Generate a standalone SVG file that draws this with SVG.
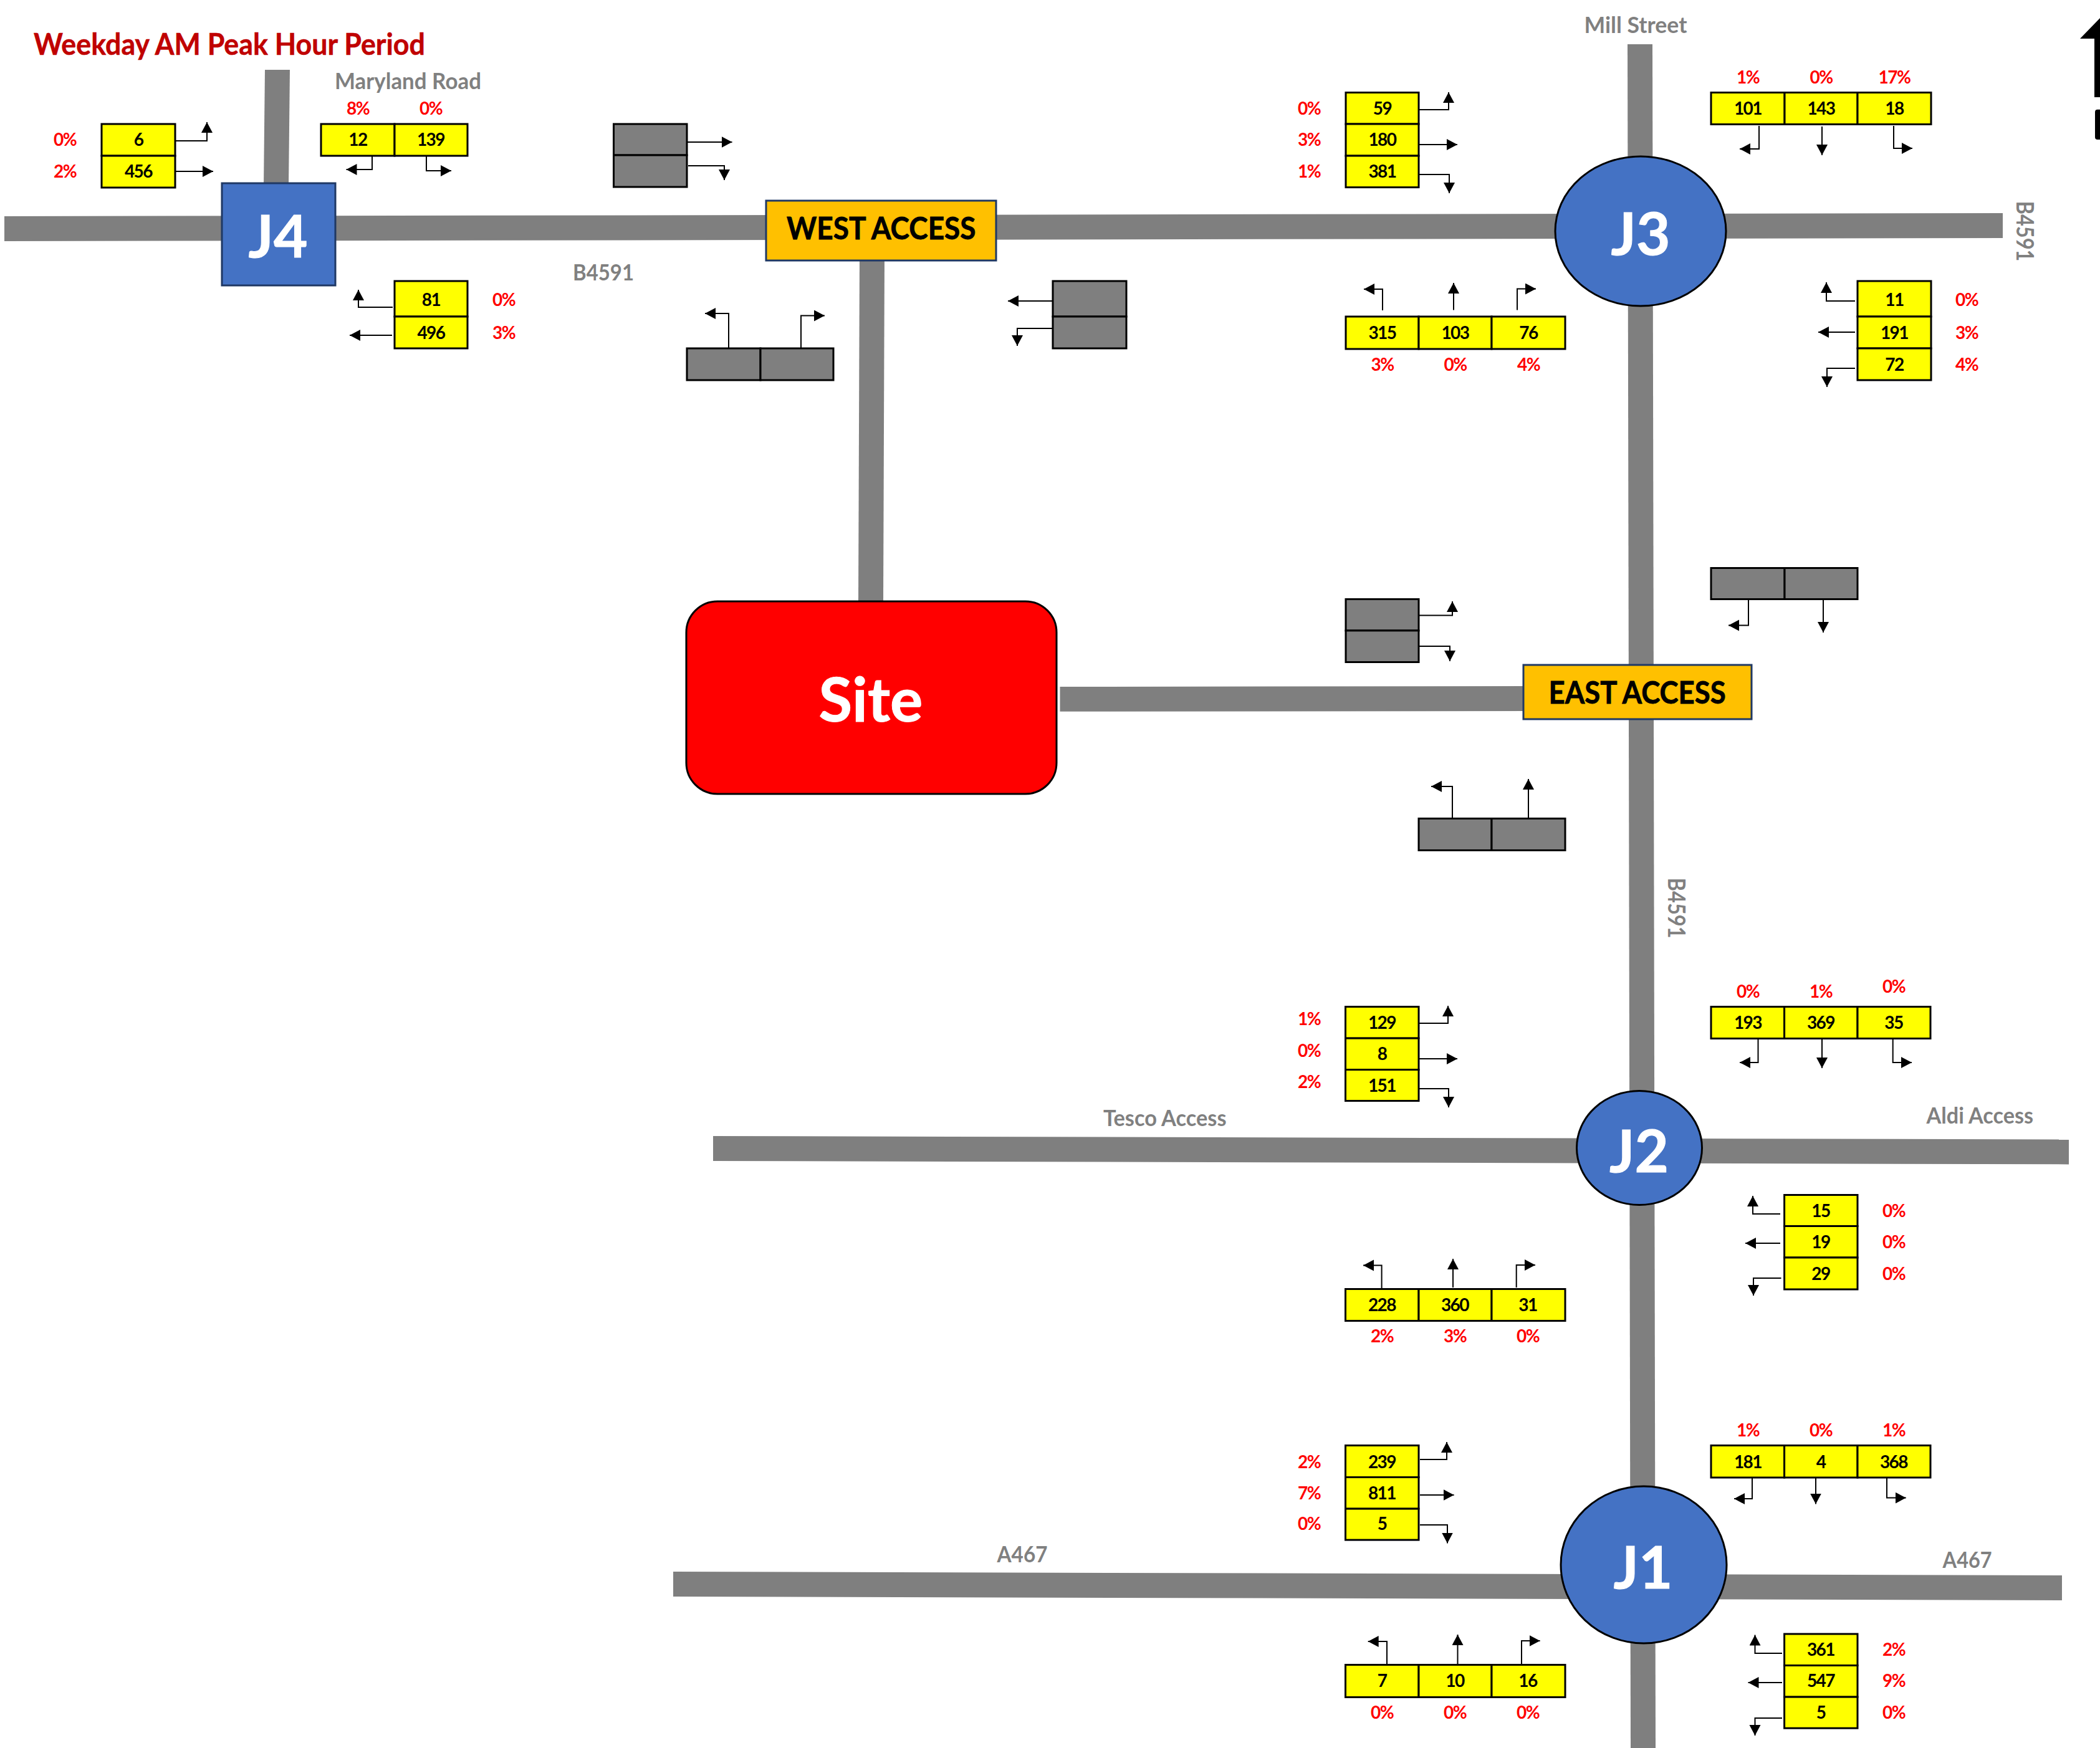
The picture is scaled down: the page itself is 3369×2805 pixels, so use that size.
<svg xmlns="http://www.w3.org/2000/svg" width="3369" height="2805" viewBox="0 0 3369 2805">
<style>
text{font-family:"Lato","Open Sans","Liberation Sans",sans-serif;font-weight:700}
.road{fill:#7f7f7f}
.c{fill:#ffff00;stroke:#000;stroke-width:3}
.g{fill:#7f7f7f;stroke:#000;stroke-width:3}
.v{font-size:28px;letter-spacing:-1.5px;fill:#000;text-anchor:middle}
.p{font-size:28px;letter-spacing:-1.5px;fill:#f00;text-anchor:middle}
.l{font-size:36px;fill:#808080}
.lv{font-size:38px}
.j{font-size:94px;fill:#fff;text-anchor:middle;stroke:#fff;stroke-width:1}
.jn{fill:#4472c4;stroke:#000;stroke-width:3}
.acc{fill:#ffc000;stroke:#1f3864;stroke-width:3}
.a{font-size:49px;fill:#000;stroke:#000;stroke-width:.8}
.cn{fill:none;stroke:#000;stroke-width:2;marker-end:url(#ah)}
.t{font-size:48px;fill:#c00000;stroke:#c00000;stroke-width:.5}
.s{font-size:98px;fill:#fff;text-anchor:middle;stroke:#fff;stroke-width:1}
</style>
<defs>
<marker id="ah" markerUnits="userSpaceOnUse" markerWidth="20" markerHeight="20" refX="17" refY="9" orient="auto"><path d="M0 0L17 9L0 18Z" fill="#000"/></marker>
</defs>
<rect width="3369" height="2805" fill="#fff"/>
<g id="roads">
<polygon class="road" points="7,347 3213,342 3213,382 7,387"/>
<polygon class="road" points="425,112 465,112 463,300 423,300"/>
<polygon class="road" points="2611,71 2651,71 2656,2805 2616,2805"/>
<polygon class="road" points="1379,410 1419,410 1417,970 1377,970"/>
<polygon class="road" points="1700.5,1102 2450,1101 2450,1141 1700.5,1141.7"/>
<polygon class="road" points="1144,1823 3319,1828.5 3319,1868.4 1144,1863"/>
<polygon class="road" points="1080,2522 3308,2528 3308,2568 1080,2562"/>
</g>
<g id="connectors">
<path class="cn" d="M281 226H332V196"/><path class="cn" d="M279 275H342"/>
<path class="cn" d="M597 250V272H555.5"/><path class="cn" d="M684 250V274H724"/>
<path class="cn" d="M630 493H575V465"/><path class="cn" d="M629 538H561"/>
<path class="cn" d="M1102 228H1174.5"/><path class="cn" d="M1104 266H1162V289"/>
<path class="cn" d="M1169 559V503H1131"/><path class="cn" d="M1285 559V506.5H1323"/>
<path class="cn" d="M1689 483H1617"/><path class="cn" d="M1689 527H1632V555"/>
<path class="cn" d="M2276 176H2324V148"/><path class="cn" d="M2276 232H2338"/><path class="cn" d="M2276 280H2325V310"/>
<path class="cn" d="M2822 202V239H2791"/><path class="cn" d="M2923 203V249"/><path class="cn" d="M3038 202V238H3068"/>
<path class="cn" d="M2218 498V464H2188"/><path class="cn" d="M2332 497.5V454"/><path class="cn" d="M2434 497.5V463.5H2464"/>
<path class="cn" d="M2976 483H2930V453"/><path class="cn" d="M2976 533H2917"/><path class="cn" d="M2976 591H2931V621"/>
<path class="cn" d="M2805 961V1003.5H2773"/><path class="cn" d="M2925 961V1015"/>
<path class="cn" d="M2276 987.4H2330V965"/><path class="cn" d="M2276 1037H2326V1061"/>
<path class="cn" d="M2330 1313V1262H2296"/><path class="cn" d="M2452 1313V1250"/>
<path class="cn" d="M2276 1642H2323V1614"/><path class="cn" d="M2276 1699H2338"/><path class="cn" d="M2276 1747H2324V1777"/>
<path class="cn" d="M2820.5 1668V1705H2791"/><path class="cn" d="M2923 1668V1714"/><path class="cn" d="M3036.7 1668V1705H3067"/>
<path class="cn" d="M2856 1948H2812V1919"/><path class="cn" d="M2856 1995H2800"/><path class="cn" d="M2857.5 2051H2813V2079"/>
<path class="cn" d="M2216.6 2068V2030.5H2187"/><path class="cn" d="M2331 2066V2020"/><path class="cn" d="M2432.7 2066V2030H2463"/>
<path class="cn" d="M2278 2342H2321V2314"/><path class="cn" d="M2278 2399H2332.6"/><path class="cn" d="M2278 2447H2322V2476.5"/>
<path class="cn" d="M2811 2370V2405H2782"/><path class="cn" d="M2913 2370V2413.6"/><path class="cn" d="M3027 2370V2403.6H3057.7"/>
<path class="cn" d="M2225 2671V2634H2194.7"/><path class="cn" d="M2338.5 2671V2623"/><path class="cn" d="M2441 2671V2633H2470.6"/>
<path class="cn" d="M2859 2653H2815.5V2623.6"/><path class="cn" d="M2859 2700H2804.5"/><path class="cn" d="M2859 2757H2815.5V2785"/>
</g>
<text id="title" class="t" x="54" y="88" textLength="628" lengthAdjust="spacingAndGlyphs">Weekday AM Peak Hour Period</text>
<g id="road-labels">
<text class="l" x="537" y="143" textLength="235" lengthAdjust="spacingAndGlyphs">Maryland Road</text>
<text class="l" x="919" y="450" textLength="98" lengthAdjust="spacingAndGlyphs">B4591</text>
<text class="l" x="2541.5" y="53" textLength="165" lengthAdjust="spacingAndGlyphs">Mill Street</text>
<text class="l lv" transform="translate(3235 322.5) rotate(90)" textLength="97" lengthAdjust="spacingAndGlyphs">B4591</text>
<text class="l lv" transform="translate(2676 1408.6) rotate(90)" textLength="97" lengthAdjust="spacingAndGlyphs">B4591</text>
<text class="l" x="1770" y="1807" textLength="197.5" lengthAdjust="spacingAndGlyphs">Tesco Access</text>
<text class="l" x="3090.5" y="1803" textLength="171.5" lengthAdjust="spacingAndGlyphs">Aldi Access</text>
<text class="l" x="1599.5" y="2507" textLength="81" lengthAdjust="spacingAndGlyphs">A467</text>
<text class="l" x="3116.6" y="2516" textLength="79" lengthAdjust="spacingAndGlyphs">A467</text>
</g>
<g id="j4"><rect class="jn" x="356" y="294" width="182" height="164" style="stroke:#1f3864"/><text class="j" x="446" y="413">J4</text></g>
<g id="j3"><ellipse class="jn" cx="2632" cy="371" rx="137" ry="120"/><text class="j" x="2632" y="409">J3</text></g>
<g id="j2"><ellipse class="jn" cx="2630" cy="1842" rx="100.5" ry="91.5"/><text class="j" x="2629.5" y="1881">J2</text></g>
<g id="j1"><ellipse class="jn" cx="2637" cy="2511" rx="133" ry="126"/><text class="j" x="2636" y="2549">J1</text></g>
<g id="west-access"><rect class="acc" x="1229" y="322" width="369" height="96"/><text class="a" x="1262" y="384" textLength="303.5" lengthAdjust="spacingAndGlyphs">WEST ACCESS</text></g>
<g id="east-access"><rect class="acc" x="2444" y="1067" width="366" height="87"/><text class="a" x="2484.6" y="1129" textLength="284" lengthAdjust="spacingAndGlyphs">EAST ACCESS</text></g>
<g id="site"><rect x="1101" y="965" width="594" height="309" rx="50" ry="50" fill="#f00" stroke="#000" stroke-width="3"/><text class="s" x="1397" y="1158">Site</text></g>
<g id="j4-west"><rect class="c" x="163" y="199" width="118" height="51"/><rect class="c" x="163" y="250" width="118" height="51"/>
<text class="v" x="222" y="234">6</text><text class="v" x="222" y="285">456</text><text class="p" x="104" y="234">0%</text><text class="p" x="104" y="285">2%</text></g>
<g id="j4-north"><rect class="c" x="515" y="199" width="118" height="51"/><rect class="c" x="633" y="199" width="117" height="51"/>
<text class="v" x="574" y="234">12</text><text class="v" x="691" y="234">139</text><text class="p" x="574" y="184">8%</text><text class="p" x="691" y="184">0%</text></g>
<g id="j4-east"><rect class="c" x="633" y="451" width="117" height="57"/><rect class="c" x="633" y="508" width="117" height="51"/>
<text class="v" x="691.5" y="490.5">81</text><text class="v" x="691.5" y="544">496</text><text class="p" x="808" y="490.5">0%</text><text class="p" x="808" y="544">3%</text></g>
<g id="west-access-a"><rect class="g" x="984.5" y="199" width="117.5" height="50"/><rect class="g" x="984.5" y="249" width="117.5" height="51"/></g>
<g id="west-access-b"><rect class="g" x="1102" y="559" width="118" height="51"/><rect class="g" x="1220" y="559" width="117" height="51"/></g>
<g id="west-access-c"><rect class="g" x="1689" y="451" width="118" height="57"/><rect class="g" x="1689" y="508" width="118" height="51"/></g>
<g id="j3-west"><rect class="c" x="2159" y="148.5" width="117" height="50.5"/><rect class="c" x="2159" y="199" width="117" height="51"/><rect class="c" x="2159" y="250" width="117" height="50.6"/>
<text class="v" x="2217.5" y="184">59</text><text class="v" x="2217.5" y="234">180</text><text class="v" x="2217.5" y="285">381</text><text class="p" x="2100" y="184">0%</text><text class="p" x="2100" y="234">3%</text><text class="p" x="2100" y="285">1%</text></g>
<g id="j3-north"><rect class="c" x="2745" y="148.5" width="118" height="51"/><rect class="c" x="2863" y="148.5" width="117" height="51"/><rect class="c" x="2980" y="148.5" width="118" height="51"/>
<text class="v" x="2804" y="184">101</text><text class="v" x="2921.5" y="184">143</text><text class="v" x="3039" y="184">18</text><text class="p" x="2804" y="134">1%</text><text class="p" x="2921.5" y="134">0%</text><text class="p" x="3039" y="134">17%</text></g>
<g id="j3-south"><rect class="c" x="2159" y="508" width="117" height="52"/><rect class="c" x="2276" y="508" width="117" height="52"/><rect class="c" x="2393" y="508" width="118" height="52"/>
<text class="v" x="2217.5" y="544">315</text><text class="v" x="2334.5" y="544">103</text><text class="v" x="2452" y="544">76</text><text class="p" x="2217.5" y="595">3%</text><text class="p" x="2334.5" y="595">0%</text><text class="p" x="2452" y="595">4%</text></g>
<g id="j3-east"><rect class="c" x="2980" y="451" width="118" height="57"/><rect class="c" x="2980" y="508" width="118" height="51"/><rect class="c" x="2980" y="559" width="118" height="51"/>
<text class="v" x="3039" y="490.5">11</text><text class="v" x="3039" y="544">191</text><text class="v" x="3039" y="595">72</text><text class="p" x="3155" y="490.5">0%</text><text class="p" x="3155" y="544">3%</text><text class="p" x="3155" y="595">4%</text></g>
<g id="east-access-a"><rect class="g" x="2745" y="911.5" width="118" height="50"/><rect class="g" x="2863" y="911.5" width="117" height="50"/></g>
<g id="east-access-b"><rect class="g" x="2159" y="961.5" width="117" height="50.4"/><rect class="g" x="2159" y="1011.9" width="117" height="50.6"/></g>
<g id="east-access-c"><rect class="g" x="2276" y="1313.5" width="117" height="51"/><rect class="g" x="2393" y="1313.5" width="118" height="51"/></g>
<g id="j2-west"><rect class="c" x="2158.5" y="1615.5" width="117.5" height="50.6"/><rect class="c" x="2158.5" y="1666.1" width="117.5" height="50.4"/><rect class="c" x="2158.5" y="1716.5" width="117.5" height="50"/>
<text class="v" x="2217" y="1651">129</text><text class="v" x="2217" y="1701">8</text><text class="v" x="2217" y="1752">151</text><text class="p" x="2100" y="1645">1%</text><text class="p" x="2100" y="1696">0%</text><text class="p" x="2100" y="1745.5">2%</text></g>
<g id="j2-north"><rect class="c" x="2745" y="1615.5" width="117.6" height="51"/><rect class="c" x="2862.6" y="1615.5" width="117.4" height="51"/><rect class="c" x="2980" y="1615.5" width="117" height="51"/>
<text class="v" x="2804" y="1651">193</text><text class="v" x="2921" y="1651">369</text><text class="v" x="3038" y="1651">35</text><text class="p" x="2804" y="1601">0%</text><text class="p" x="2921" y="1601">1%</text><text class="p" x="3038" y="1593">0%</text></g>
<g id="j2-east"><rect class="c" x="2862.6" y="1917.5" width="117.4" height="50"/><rect class="c" x="2862.6" y="1967.5" width="117.4" height="50.5"/><rect class="c" x="2862.6" y="2018" width="117.4" height="51"/>
<text class="v" x="2921" y="1953">15</text><text class="v" x="2921" y="2003">19</text><text class="v" x="2921" y="2053.6">29</text><text class="p" x="3038" y="1953">0%</text><text class="p" x="3038" y="2003">0%</text><text class="p" x="3038" y="2053.6">0%</text></g>
<g id="j2-south"><rect class="c" x="2158.5" y="2068.5" width="117.5" height="51"/><rect class="c" x="2276" y="2068.5" width="117" height="51"/><rect class="c" x="2393" y="2068.5" width="118" height="51"/>
<text class="v" x="2217" y="2104">228</text><text class="v" x="2334" y="2104">360</text><text class="v" x="2451" y="2104">31</text><text class="p" x="2217" y="2153.6">2%</text><text class="p" x="2334" y="2153.6">3%</text><text class="p" x="2451" y="2153.6">0%</text></g>
<g id="j1-west"><rect class="c" x="2158.5" y="2319.5" width="117.5" height="51"/><rect class="c" x="2158.5" y="2370.5" width="117.5" height="50.6"/><rect class="c" x="2158.5" y="2421.1" width="117.5" height="50"/>
<text class="v" x="2217" y="2356">239</text><text class="v" x="2217" y="2405.6">811</text><text class="v" x="2217" y="2455">5</text><text class="p" x="2100" y="2356">2%</text><text class="p" x="2100" y="2405.6">7%</text><text class="p" x="2100" y="2455">0%</text></g>
<g id="j1-north"><rect class="c" x="2745" y="2319.5" width="117.6" height="51.5"/><rect class="c" x="2862.6" y="2319.5" width="117.4" height="51.5"/><rect class="c" x="2980" y="2319.5" width="117" height="51.5"/>
<text class="v" x="2804" y="2356">181</text><text class="v" x="2921" y="2356">4</text><text class="v" x="3038" y="2356">368</text><text class="p" x="2804" y="2305">1%</text><text class="p" x="2921" y="2305">0%</text><text class="p" x="3038" y="2305">1%</text></g>
<g id="j1-south"><rect class="c" x="2158.5" y="2671.5" width="117.5" height="52"/><rect class="c" x="2276" y="2671.5" width="117" height="52"/><rect class="c" x="2393" y="2671.5" width="118" height="52"/>
<text class="v" x="2217" y="2707">7</text><text class="v" x="2334" y="2707">10</text><text class="v" x="2451" y="2707">16</text><text class="p" x="2217" y="2757.7">0%</text><text class="p" x="2334" y="2757.7">0%</text><text class="p" x="2451" y="2757.7">0%</text></g>
<g id="j1-east"><rect class="c" x="2862.6" y="2622" width="117.4" height="50.5"/><rect class="c" x="2862.6" y="2672.5" width="117.4" height="50.6"/><rect class="c" x="2862.6" y="2723.1" width="117.4" height="50.1"/>
<text class="v" x="2921" y="2657">361</text><text class="v" x="2921" y="2707">547</text><text class="v" x="2921" y="2757.7">5</text><text class="p" x="3038" y="2657">2%</text><text class="p" x="3038" y="2707">9%</text><text class="p" x="3038" y="2757.7">0%</text></g>
<g id="north-arrow"><polygon points="3369,29 3337,62 3360,62 3360,156 3369,156" fill="#000"/><rect x="3361" y="175.7" width="20" height="48.3" rx="4" fill="#000"/></g>
</svg>
